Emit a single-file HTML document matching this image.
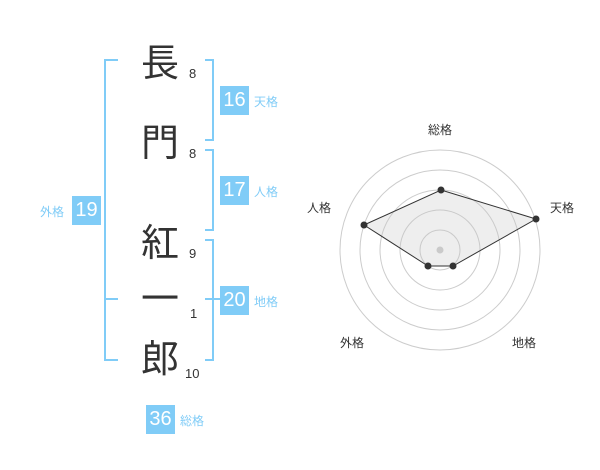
<!DOCTYPE html>
<html><head><meta charset="utf-8"><style>
body{margin:0;width:600px;height:470px;background:#fff;position:relative;overflow:hidden;font-family:"Liberation Sans","Noto Sans CJK JP",sans-serif}
.k{position:absolute;left:140px;width:40px;text-align:center;font-size:38px;line-height:40px;color:#333;font-family:"Noto Sans CJK JP",sans-serif}
.n{position:absolute;font-size:13px;color:#333;line-height:14px}
.b{position:absolute;width:29px;height:29px;background:#80ccf7;color:#fff;font-size:20px;line-height:29px;text-align:center}
.l{position:absolute;font-size:12px;color:#80ccf7;line-height:14px;font-family:"Noto Sans CJK JP",sans-serif}
.v{position:absolute;background:#80ccf7}
.rl{position:absolute;font-size:12px;color:#333;line-height:14px;font-family:"Noto Sans CJK JP",sans-serif}
</style></head><body>
<div class="k" style="top:40px">長</div>
<div class="k" style="top:120px">門</div>
<div class="k" style="top:220px">紅</div>
<div class="k" style="top:276px">一</div>
<div class="k" style="top:336px">郎</div>
<div class="n" style="left:189px;top:67px">8</div>
<div class="n" style="left:189px;top:147px">8</div>
<div class="n" style="left:189px;top:247px">9</div>
<div class="n" style="left:190px;top:307px">1</div>
<div class="n" style="left:185px;top:367px">10</div>
<!-- left bracket -->
<div class="v" style="left:104px;top:59px;width:2px;height:302px"></div>
<div class="v" style="left:104px;top:59px;width:14px;height:2px"></div>
<div class="v" style="left:104px;top:298px;width:14px;height:2px"></div>
<div class="v" style="left:104px;top:359px;width:14px;height:2px"></div>
<!-- right brackets -->
<div class="v" style="left:212px;top:59px;width:2px;height:82px"></div>
<div class="v" style="left:205px;top:59px;width:9px;height:2px"></div>
<div class="v" style="left:205px;top:139px;width:9px;height:2px"></div>
<div class="v" style="left:212px;top:149px;width:2px;height:82px"></div>
<div class="v" style="left:205px;top:149px;width:9px;height:2px"></div>
<div class="v" style="left:205px;top:229px;width:9px;height:2px"></div>
<div class="v" style="left:212px;top:239px;width:2px;height:122px"></div>
<div class="v" style="left:205px;top:239px;width:9px;height:2px"></div>
<div class="v" style="left:205px;top:298px;width:15px;height:2px"></div>
<div class="v" style="left:205px;top:359px;width:9px;height:2px"></div>
<div class="b" style="left:220px;top:86px">16</div><div class="l" style="left:254px;top:95px">天格</div>
<div class="b" style="left:220px;top:176px">17</div><div class="l" style="left:254px;top:185px">人格</div>
<div class="b" style="left:220px;top:286px">20</div><div class="l" style="left:254px;top:295px">地格</div>
<div class="b" style="left:72px;top:196px">19</div><div class="l" style="left:40px;top:205px">外格</div>
<div class="b" style="left:146px;top:405px">36</div><div class="l" style="left:180px;top:414px">総格</div>
<svg style="position:absolute;left:0;top:0" width="600" height="470">
<g fill="none" stroke="#ccc" stroke-width="1">
<circle cx="440" cy="250" r="20"/><circle cx="440" cy="250" r="40"/><circle cx="440" cy="250" r="60"/><circle cx="440" cy="250" r="80"/><circle cx="440" cy="250" r="100"/>
</g>
<circle cx="440" cy="250" r="3.5" fill="#ccc"/>
<polygon points="441,190 536,219 453,266 428,266 364,225" fill="rgba(200,200,200,0.3)" stroke="#333" stroke-width="1"/>
<g fill="#333"><circle cx="441" cy="190" r="3.5"/><circle cx="536" cy="219" r="3.5"/><circle cx="453" cy="266" r="3.5"/><circle cx="428" cy="266" r="3.5"/><circle cx="364" cy="225" r="3.5"/></g>
</svg>
<div class="rl" style="left:428px;top:123px">総格</div>
<div class="rl" style="left:550px;top:201px">天格</div>
<div class="rl" style="left:307px;top:201px">人格</div>
<div class="rl" style="left:340px;top:336px">外格</div>
<div class="rl" style="left:512px;top:336px">地格</div>
</body></html>
